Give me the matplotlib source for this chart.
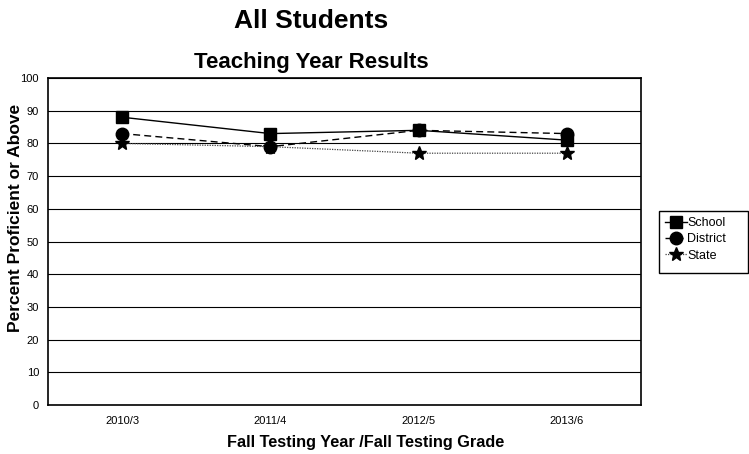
import matplotlib
matplotlib.use("Agg")
import matplotlib.pyplot as plt
from matplotlib.patches import Rectangle

plt.rcParams['font.family'] = ['Liberation Sans', 'DejaVu Sans']

categories = ["2010/3", "2011/4", "2012/5", "2013/6"]
school = [88, 83, 84, 81]
district = [83, 79, 84, 83]
state = [80, 79, 77, 77]

W, H = 749, 454
fig = plt.figure(figsize=(W / 100, H / 100), dpi=100)
ax = fig.add_axes([48 / W, 1 - 405 / H, (641 - 48) / W, (405 - 78) / H])

x = list(range(len(categories)))
ax.plot(x, school, color='black', lw=1, ls='-', marker='s', ms=9, label='School', zorder=4)
ax.plot(x, district, color='black', lw=1, ls=(0, (5, 3)), marker='o', ms=9, label='District', zorder=3)
ax.plot(x, state, color='#444444', lw=0.9, ls=(0, (1, 1)), marker='*', ms=10,
        mfc='black', mec='black', label='State', zorder=3)

ax.set_xlim(-0.5, len(categories) - 0.5)
ax.set_ylim(0, 100)
ax.set_yticks(range(0, 101, 10))
ax.set_xticks(x)
ax.set_xticklabels(categories)
ax.tick_params(axis='y', length=0, labelsize=8, pad=6.5)
ax.tick_params(axis='x', length=0, labelsize=8, pad=8)
ax.yaxis.grid(True, color='black', lw=0.8)
ax.set_axisbelow(True)
for s in ax.spines.values():
    s.set_linewidth(1.2)
    s.set_color('black')

fig.text(23 / W, 1 - 218 / H, "Percent Proficient or Above", rotation=90,
         ha='right', va='center', fontsize=12.5, fontweight='bold')
fig.text(366 / W, 1 - 447 / H, "Fall Testing Year /Fall Testing Grade",
         ha='center', va='baseline', fontsize=11.7, fontweight='bold')

fig.text(311 / W, 1 - 28 / H, "All Students", ha='center', va='baseline',
         fontsize=19, fontweight='bold')
fig.text(311 / W, 1 - 68 / H, "Teaching Year Results", ha='center', va='baseline',
         fontsize=16, fontweight='bold')

# legend frame
fig.patches.append(Rectangle((659 / W, 1 - 273 / H), (748 - 659) / W, (273 - 211) / H,
                             transform=fig.transFigure, fill=False, edgecolor='black',
                             lw=1.0, figure=fig))
leg = ax.legend(loc='upper left', bbox_to_anchor=(665 / W, 1 - 217 / H),
                bbox_transform=fig.transFigure, fontsize=9, frameon=False,
                handlelength=1.75, handletextpad=0.05, borderpad=0, borderaxespad=0,
                labelspacing=0.35, markerscale=1.0)

fig.savefig("out.png", dpi=100)
